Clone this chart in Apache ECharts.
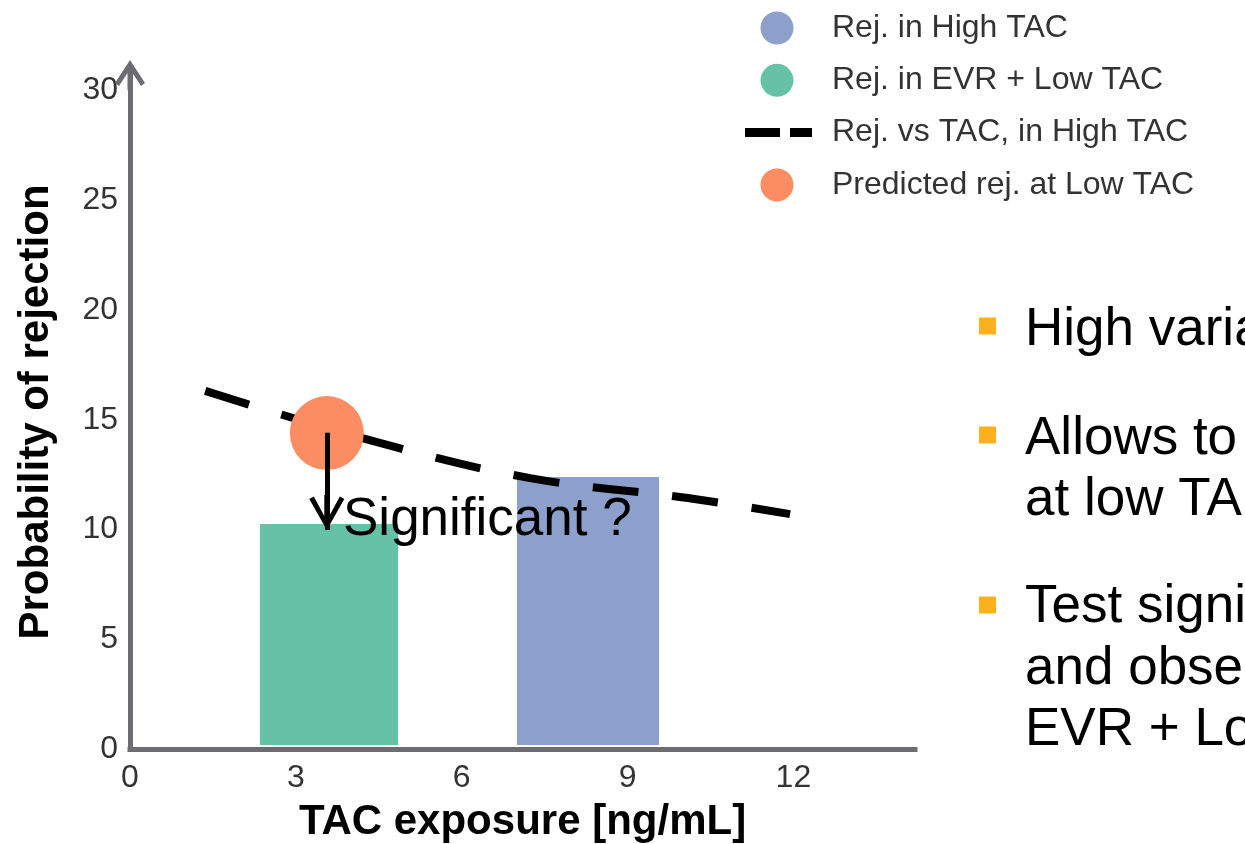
<!DOCTYPE html>
<html>
<head>
<meta charset="utf-8">
<script src="https://cdn.jsdelivr.net/npm/echarts@6/dist/echarts.min.js"></script>
<style>html,body{margin:0;padding:0;background:#fff;}#c{width:1245px;height:844px;}</style>
</head>
<body>
<div id="c"></div>
<script>
// ---- data ----
const xTicks = [0, 3, 6, 9, 12];
const yTicks = [0, 5, 10, 15, 20, 25, 30];
const barNames = ['Rej. in EVR + Low TAC', 'Rej. in High TAC'];
const barStart = [2.35, 7.0];
const barEnd = [4.85, 9.57];
const barValue = [10.25, 12.39];
const trendName = 'Rej. vs TAC, in High TAC';
const trendX = [1.36, 4.52, 7.24, 10.09, 11.94];
const trendY = [16.31, 13.94, 12.34, 11.43, 10.70];
const predName = 'Predicted rej. at Low TAC';
const predPoint = [3.56, 14.39];
const arrowFrom = [3.56, 14.4];
const arrowTo = [3.56, 9.98];
const noteText = 'Significant ?';
const bulletLines = ['High varia', 'Allows to', 'at low TA', 'Test signi', 'and obse', 'EVR + Lo'];

const FONT = 'Liberation Sans';
const axisColor = '#6d6c71';
const barColors = ['#66c2a5', '#8da0cb'];

const chart = echarts.init(document.getElementById('c'), null, {renderer: 'canvas'});

const barSeries = barNames.map((name, i) => ({
  name: name,
  type: 'custom',
  z: 1,
  itemStyle: {color: barColors[i]},
  data: [[barStart[i], barEnd[i], barValue[i]]],
  renderItem: function (params, api) {
    const p0 = api.coord([api.value(0), api.value(2)]);
    const p1 = api.coord([api.value(1), 0]);
    return {
      type: 'rect',
      shape: {x: p0[0], y: p0[1], width: p1[0] - p0[0], height: p1[1] - p0[1] - 4},
      style: {fill: barColors[i]}
    };
  }
}));

// arrow head drawn in the lower half of a square box so its apex sits at the box centre
const arrowHead = 'path://M0,0 M70,70 M35,35 L52.5,66 L48,68.5 L37.5,49 L37.5,70 L32.5,70 L32.5,49 L22,68.5 L17.5,66 Z';
const axisArrow = 'path://M15,0 L30,23 L26,26 L17.5,13 L17.5,30 L12.5,30 L12.5,13 L4,26 L0,23 Z';
const dashIcon = 'path://M0,0 M100,33 M18,12 h35 v9 h-35 z M63,12 h22 v9 h-22 z';

const bulletY = [330, 439, 500, 607, 669, 730];
const squareY = [326, 435, 605];

const graphics = [
  {type: 'text', x: 343, y: 520, z: 100,
   style: {text: noteText, fontSize: 53, fontFamily: FONT, fill: '#000', verticalAlign: 'middle'}}
];
squareY.forEach(y => graphics.push({type: 'rect', shape: {x: 979, y: y - 8.5, width: 17, height: 17}, style: {fill: '#fcb11c'}}));
bulletLines.forEach((t, i) => graphics.push({type: 'text', x: 1025, y: bulletY[i],
  style: {text: t, fontSize: 53, fontFamily: FONT, fill: '#000', verticalAlign: 'middle'}}));

chart.setOption({
  animation: false,
  backgroundColor: '#fff',
  textStyle: {fontFamily: FONT},
  grid: {left: 130, right: 330, top: 75, bottom: 95, outerBoundsMode: 'none'},
  legend: {
    orient: 'vertical', left: 727, top: 11.5, padding: 0,
    itemWidth: 100, itemHeight: 33, itemGap: 19.3,
    selectedMode: false,
    itemStyle: {borderWidth: 0},
    textStyle: {fontSize: 32, color: '#333', lineHeight: 33, fontFamily: FONT},
    data: [
      {name: barNames[1], icon: 'circle'},
      {name: barNames[0], icon: 'circle'},
      {name: trendName, icon: dashIcon},
      {name: predName, icon: 'circle'}
    ]
  },
  xAxis: {
    type: 'value', min: 0, max: 14.2,
    axisLine: {onZero: false, lineStyle: {color: axisColor, width: 5, cap: 'square'}},
    axisTick: {show: false},
    splitLine: {show: false},
    axisLabel: {customValues: xTicks, fontSize: 32, color: '#333', margin: 13},
    name: 'TAC exposure [ng/mL]', nameLocation: 'middle', nameGap: 52,
    nameTextStyle: {fontSize: 42, fontWeight: 'bold', color: '#000'}
  },
  yAxis: {
    type: 'value', min: 0, max: 30.7,
    axisLine: {show: true, onZero: false, symbol: ['none', axisArrow], symbolSize: [30, 30],
      lineStyle: {color: axisColor, width: 5, cap: 'square'}},
    axisTick: {show: false},
    splitLine: {show: false},
    axisLabel: {customValues: yTicks, fontSize: 32, color: '#333', margin: 12},
    name: 'Probability of rejection', nameLocation: 'middle', nameGap: 73,
    nameTextStyle: {fontSize: 42, fontWeight: 'bold', color: '#000'}
  },
  series: barSeries.concat([
    {
      name: trendName, type: 'line', z: 3,
      data: trendX.map((x, i) => [x, trendY[i]]),
      smooth: 0.4, symbol: 'none', color: '#000',
      itemStyle: {color: '#000'},
      lineStyle: {color: '#000', width: 8, type: [46, 34], cap: 'butt'}
    },
    {
      name: predName, type: 'scatter', z: 4,
      data: [predPoint], symbolSize: 74,
      itemStyle: {color: '#fc8d62', opacity: 1}
    },
    {
      name: 'arrow', type: 'lines', coordinateSystem: 'cartesian2d', z: 5,
      symbol: ['none', arrowHead], symbolSize: 70,
      lineStyle: {color: '#000', width: 5, opacity: 1},
      data: [{coords: [arrowFrom, arrowTo]}]
    }
  ]),
  graphic: graphics
});
</script>
</body>
</html>
